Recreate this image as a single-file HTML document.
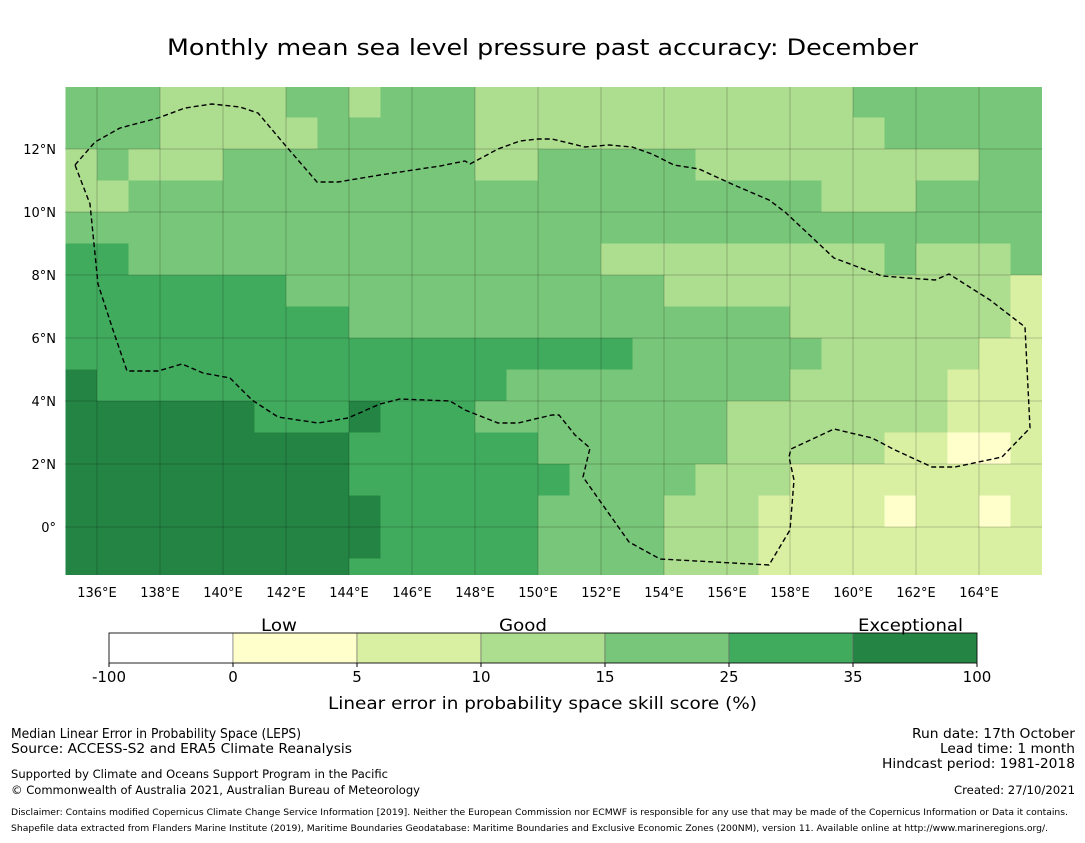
<!DOCTYPE html>
<html><head><meta charset="utf-8"><style>
body{margin:0;background:#fff;width:1085px;height:839px;overflow:hidden;font-family:"DejaVu Sans",sans-serif}
</style></head><body>
<svg id="svg" width="1085" height="839" xmlns="http://www.w3.org/2000/svg" font-family="DejaVu Sans, Liberation Sans, sans-serif">
<defs><clipPath id="mapclip"><rect x="65" y="87" width="977" height="488"/></clipPath></defs>
<text x="167" y="55" font-size="22" textLength="751" lengthAdjust="spacingAndGlyphs" fill="#000">Monthly mean sea level pressure past accuracy: December</text>
<g id="map" clip-path="url(#mapclip)"></g>
<g id="grid" clip-path="url(#mapclip)"></g>
<polyline id="eez" clip-path="url(#mapclip)" fill="none" stroke="#000" stroke-width="1.4" stroke-dasharray="5,3"
points="75,165 95,142 120,128 158,118 185,108 212,104 240,107 258,113 285,145 317,182 338,182 380,175 440,166 465,161 470,164 498,149 520,141 538,139 552,139 585,147 609,145 632,147 652,154 674,165 699,169 734,185 769,200 785,212 834,258 882,276 935,280 949,274 990,300 1025,327 1030,428 1002,457 955,467 932,467 895,450 872,438 834,429 791,449 789,457 794,480 790,530 769,565 660,559 629,542 583,477 590,448 575,435 559,415 552,415 518,423 498,423 465,410 450,401 400,399 380,404 348,418 318,423 278,417 252,400 230,378 203,373 182,364 158,371 127,371 113,330 98,284 90,204 75,165"/>
<g id="xticks"></g>
<g id="yticks"></g>
<g id="cbar"></g>
<text x="261" y="631" font-size="17" textLength="36" lengthAdjust="spacingAndGlyphs">Low</text>
<text x="499" y="631" font-size="17" textLength="48" lengthAdjust="spacingAndGlyphs">Good</text>
<text x="858" y="631" font-size="17" textLength="105" lengthAdjust="spacingAndGlyphs">Exceptional</text>
<text x="328" y="709" font-size="17" textLength="429" lengthAdjust="spacingAndGlyphs">Linear error in probability space skill score (%)</text>
<g font-size="13">
<text x="11" y="738" textLength="290" lengthAdjust="spacingAndGlyphs">Median Linear Error in Probability Space (LEPS)</text>
<text x="11" y="753" textLength="341" lengthAdjust="spacingAndGlyphs">Source: ACCESS-S2 and ERA5 Climate Reanalysis</text>
<text x="11" y="778" font-size="11.5" textLength="377" lengthAdjust="spacingAndGlyphs">Supported by Climate and Oceans Support Program in the Pacific</text>
<text x="11" y="794" font-size="11.5" textLength="409" lengthAdjust="spacingAndGlyphs">© Commonwealth of Australia 2021, Australian Bureau of Meteorology</text>
</g>
<g font-size="13">
<text x="912" y="738" textLength="163" lengthAdjust="spacingAndGlyphs">Run date: 17th October</text>
<text x="940" y="753" textLength="135" lengthAdjust="spacingAndGlyphs">Lead time: 1 month</text>
<text x="882" y="768" textLength="193" lengthAdjust="spacingAndGlyphs">Hindcast period: 1981-2018</text>
<text x="954" y="794" font-size="11.5" textLength="121" lengthAdjust="spacingAndGlyphs">Created: 27/10/2021</text>
</g>
<text x="11" y="815" font-size="9" textLength="1057" lengthAdjust="spacingAndGlyphs">Disclaimer: Contains modified Copernicus Climate Change Service Information [2019]. Neither the European Commission nor ECMWF is responsible for any use that may be made of the Copernicus Information or Data it contains.</text>
<text x="11" y="831" font-size="9" textLength="1037" lengthAdjust="spacingAndGlyphs">Shapefile data extracted from Flanders Marine Institute (2019), Maritime Boundaries Geodatabase: Maritime Boundaries and Exclusive Economic Zones (200NM), version 11. Available online at http://www.marineregions.org/.</text>
</svg>
<script>
const lonStart = 135;
const latTop = 14;
const colors = ["#ffffff","#ffffcc","#d9f0a3","#addd8e","#78c679","#41ab5d","#238443"];
const bounds = ["-100","0","5","10","15","25","35","100"];
const xTickLabels = [136,138,140,142,144,146,148,150,152,154,156,158,160,162,164];
const yTickLabels = [0,2,4,6,8,10,12];
const gridCats = [
[4,4,4,3,3,3,3,4,4,3,4,4,4,3,3,3,3,3,3,3,3,3,3,3,3,4,4,4,4,4,4],
[4,4,4,3,3,3,3,3,4,4,4,4,4,3,3,3,3,3,3,3,3,3,3,3,3,3,4,4,4,4,4],
[3,4,3,3,3,4,4,4,4,4,4,4,4,3,3,4,4,4,4,4,3,3,3,3,3,3,3,3,3,4,4],
[3,3,4,4,4,4,4,4,4,4,4,4,4,4,4,4,4,4,4,4,4,4,4,4,3,3,3,4,4,4,4],
[4,4,4,4,4,4,4,4,4,4,4,4,4,4,4,4,4,4,4,4,4,4,4,4,4,4,4,4,4,4,4],
[5,5,4,4,4,4,4,4,4,4,4,4,4,4,4,4,4,3,3,3,3,3,3,3,3,3,4,3,3,3,4],
[5,5,5,5,5,5,5,4,4,4,4,4,4,4,4,4,4,4,4,3,3,3,3,3,3,3,3,3,3,3,2],
[5,5,5,5,5,5,5,5,5,4,4,4,4,4,4,4,4,4,4,4,4,4,4,3,3,3,3,3,3,3,2],
[5,5,5,5,5,5,5,5,5,5,5,5,5,5,5,5,5,5,4,4,4,4,4,4,3,3,3,3,3,2,2],
[6,5,5,5,5,5,5,5,5,5,5,5,5,5,4,4,4,4,4,4,4,4,4,3,3,3,3,3,2,2,2],
[6,6,6,6,6,6,5,5,5,6,5,5,5,4,4,4,4,4,4,4,4,3,3,3,3,3,3,3,2,2,2],
[6,6,6,6,6,6,6,6,6,5,5,5,5,5,5,4,4,4,4,4,4,3,3,3,3,3,2,2,1,1,2],
[6,6,6,6,6,6,6,6,6,5,5,5,5,5,5,5,4,4,4,4,3,3,3,2,2,2,2,2,2,2,2],
[6,6,6,6,6,6,6,6,6,6,5,5,5,5,5,4,4,4,4,3,3,3,2,2,2,2,1,2,2,1,2],
[6,6,6,6,6,6,6,6,6,6,5,5,5,5,5,4,4,4,4,3,3,3,2,2,2,2,2,2,2,2,2],
[6,6,6,6,6,6,6,6,6,5,5,5,5,5,5,4,4,4,4,3,3,3,2,2,2,2,2,2,2,2,2]
];
const NS="http://www.w3.org/2000/svg";
function xOf(lon){return 97+(lon-136)*31.5;}
function yOf(lat){return 527-lat*31.5;}
function mk(tag,attrs,parent){const e=document.createElementNS(NS,tag);for(const k in attrs)e.setAttribute(k,attrs[k]);parent.appendChild(e);return e;}
const map=document.getElementById('map');
gridCats.forEach((row,r)=>row.forEach((c,ci)=>{
  const x0=xOf(lonStart+ci), y0=yOf(latTop-r);
  const el=mk('rect',{x:x0,y:y0,width:xOf(lonStart+ci+1)-x0+0.6,height:yOf(latTop-r-1)-y0+0.6,fill:colors[c]},map);
  
  
}));
const grid=document.getElementById('grid');
const xt=document.getElementById('xticks');
xTickLabels.forEach(l=>{
  const x=xOf(l);
  const ln=mk('line',{x1:x,x2:x,y1:87,y2:575,stroke:'rgba(0,0,0,0.2)','stroke-width':1},grid);
  
  
  const t=mk('text',{x:x,y:597,'font-size':13,'text-anchor':'middle'},xt);
  t.textContent=l+'°E';
  
  
});
const yt=document.getElementById('yticks');
yTickLabels.forEach(l=>{
  const y=yOf(l);
  const ln=mk('line',{x1:65,x2:1042,y1:y,y2:y,stroke:'rgba(0,0,0,0.2)','stroke-width':1},grid);
  
  
  const t=mk('text',{x:56,y:y+5,'font-size':13,'text-anchor':'end'},yt);
  t.textContent=l===0?'0°':l+'°N';
  
  
});
const cb=document.getElementById('cbar');
const segW=124, cbX=109;
colors.forEach((c,i)=>{
  const r=mk('rect',{x:cbX+i*segW,y:633,width:segW,height:30,fill:c,stroke:'#666','stroke-width':0.6},cb);
  
  
});
mk('rect',{x:cbX,y:633,width:segW*7,height:30,fill:'none',stroke:'#000','stroke-width':0.8},cb);
bounds.forEach((b,i)=>{
  const x=cbX+i*segW;
  mk('line',{x1:x,x2:x,y1:663,y2:667,stroke:'#000'},cb);
  const t=mk('text',{x:x,y:682,'font-size':15,'text-anchor':'middle'},cb);
  t.textContent=b;
  
  
});
</script>
</body></html>
